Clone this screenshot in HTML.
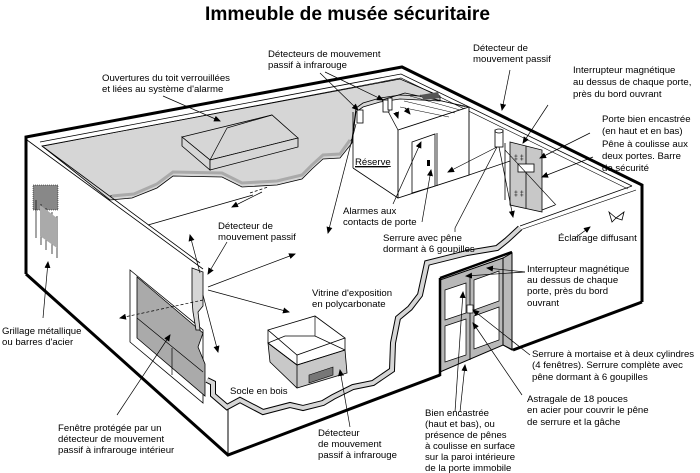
<!DOCTYPE html>
<html><head><meta charset="utf-8"><style>
html,body{margin:0;padding:0;background:#fff;}
svg{display:block;}
text{font-family:"Liberation Sans",sans-serif;font-size:9.6px;fill:#000;}
</style></head><body>
<svg width="700" height="473" viewBox="0 0 700 473" xmlns="http://www.w3.org/2000/svg">
<defs>
<marker id="a" markerWidth="7" markerHeight="7" refX="6" refY="3" orient="auto" markerUnits="userSpaceOnUse"><path d="M0,0 L7,3 L0,6 Z" fill="#000"/></marker>
</defs>
<rect width="700" height="473" fill="#fff"/>
<text x="205" y="20" font-weight="bold" style="font-size:19px" textLength="285" lengthAdjust="spacingAndGlyphs">Immeuble de musée sécuritaire</text>

<!-- gray roof -->
<polygon points="42,146 400,79 440,96 440,101 400,99 380,102 363,107 356,112 352,143 340,158 323,159 312,169 302,179 277,185 242,187 222,177 173,176 157,188 132,198 110,200" fill="#d6d6d6" stroke="#000" stroke-width="0.8"/>
<polyline points="110,200 132,198 157,188 173,176 222,177 242,187 277,185 302,179 312,169 323,159 340,158 352,143 356,112 363,107 380,102 400,99 440,101" fill="none" stroke="#000" stroke-width="0.8" transform="translate(0,-4)"/>
<polyline points="112,196 134,194 157,184 173,172 222,173 242,183 277,181 302,175 312,165 323,155 340,154 350,140" fill="none" stroke="#aaa" stroke-width="3"/>
<!-- roof box -->
<polygon points="182,137 272,115 298,138 210,160" fill="#d6d6d6" stroke="#000" stroke-width="0.8"/>
<polygon points="182,137 210,160 210,170 182,146" fill="#d6d6d6" stroke="#000" stroke-width="0.8"/>
<polygon points="210,160 298,138 298,147 210,170" fill="#d6d6d6" stroke="#000" stroke-width="0.8"/>
<line x1="210" y1="160" x2="227" y2="128" stroke="#000" stroke-width="0.7"/>
<line x1="227" y1="128" x2="272" y2="115" stroke="#000" stroke-width="0.7"/>

<!-- outer thick outline -->
<polyline points="26,274 26,137 402,67 642,185 642,302" fill="none" stroke="#000" stroke-width="3"/>
<polyline points="26,274 228,455 440,375" fill="none" stroke="#000" stroke-width="3"/>
<line x1="513" y1="350" x2="642" y2="302" stroke="#000" stroke-width="3"/>
<!-- inner rims -->
<polyline points="40,142 401,74 632,186" fill="none" stroke="#000" stroke-width="0.8"/>
<polyline points="44,146 401,78 628,189" fill="none" stroke="#000" stroke-width="0.6"/>
<line x1="27" y1="140" x2="203" y2="269" stroke="#000" stroke-width="0.8"/>
<line x1="42" y1="146" x2="200" y2="263" stroke="#000" stroke-width="0.8"/>
<line x1="228" y1="407" x2="228" y2="455" stroke="#000" stroke-width="1"/>
<!-- right wall interior -->
<line x1="520" y1="226" x2="632" y2="186" stroke="#000" stroke-width="0.8"/>
<line x1="520" y1="230" x2="636" y2="190" stroke="#000" stroke-width="0.6"/>
<!-- floor lines -->
<line x1="148" y1="225" x2="253" y2="195" stroke="#000" stroke-width="0.8"/>
<line x1="250" y1="193" x2="268" y2="187" stroke="#000" stroke-width="0.8" stroke-dasharray="3,2"/>
<line x1="262" y1="192" x2="232" y2="207" stroke="#000" stroke-width="0.7" marker-end="url(#a)"/>
<line x1="353" y1="168" x2="398" y2="198" stroke="#000" stroke-width="0.8"/>
<line x1="353" y1="112" x2="353" y2="168" stroke="#000" stroke-width="0.8"/>
<line x1="469" y1="175" x2="513" y2="160" stroke="#000" stroke-width="0.8"/>
<line x1="542" y1="210" x2="555" y2="205" stroke="#000" stroke-width="0.8"/>

<!-- storeroom -->
<polygon points="398,130 469,107 469,175 398,198" fill="#fff" stroke="#000" stroke-width="0.9"/>
<polyline points="398,130 382,100 405,93 469,107" fill="none" stroke="#000" stroke-width="0.7"/>
<line x1="410" y1="96" x2="460" y2="110" stroke="#000" stroke-width="0.5"/>
<line x1="404" y1="101" x2="455" y2="113" stroke="#000" stroke-width="0.5"/>
<line x1="400" y1="107" x2="449" y2="117" stroke="#000" stroke-width="0.5"/>
<line x1="420" y1="95" x2="465" y2="107" stroke="#000" stroke-width="0.5"/>
<polygon points="412,142 435,134 435,186 412,193" fill="#fff" stroke="#000" stroke-width="0.8"/>
<line x1="437" y1="133" x2="437" y2="186" stroke="#000" stroke-width="0.8"/>
<rect x="427" y="160" width="3" height="6" fill="#000"/>
<text x="355" y="165" style="text-decoration:underline">Réserve</text>
<line x1="355" y1="167" x2="388" y2="167" stroke="#000" stroke-width="0.7"/>
<!-- detectors on roof edge -->
<rect x="357" y="110" width="6" height="13" fill="#fff" stroke="#000" stroke-width="0.8"/>
<rect x="383" y="100" width="6" height="12" fill="#fff" stroke="#000" stroke-width="0.8"/>
<rect x="388" y="98" width="4" height="12" fill="#fff" stroke="#000" stroke-width="0.8"/>
<polygon points="420,95 438,92 440,98 424,100" fill="#555"/>

<!-- back wall doors panel -->
<polygon points="510,142 542,150 542,212 510,205" fill="#c8c8c8" stroke="#000" stroke-width="0.8"/>
<line x1="526" y1="146" x2="526" y2="208" stroke="#000" stroke-width="0.8"/>
<rect x="518" y="164" width="16" height="8" fill="#fff" stroke="#000" stroke-width="0.8"/>
<text x="514" y="160" style="font-size:7px">‡ ‡</text>
<text x="514" y="196" style="font-size:7px">‡ ‡</text>
<line x1="505" y1="143" x2="505" y2="200" stroke="#000" stroke-width="0.8"/>
<rect x="495" y="130" width="8" height="17" fill="#fff" stroke="#000" stroke-width="0.8"/>
<ellipse cx="499" cy="131" rx="4" ry="2" fill="#fff" stroke="#000" stroke-width="0.7"/>
<line x1="497" y1="147" x2="448" y2="172" stroke="#000" stroke-width="0.7" marker-end="url(#a)"/>
<line x1="497" y1="147" x2="455" y2="228" stroke="#000" stroke-width="0.7"/>
<line x1="499" y1="147" x2="513" y2="217" stroke="#000" stroke-width="0.7" marker-end="url(#a)"/>
<line x1="505" y1="150" x2="556" y2="205" stroke="#000" stroke-width="0.6"/>

<!-- left wall grating -->
<rect x="33" y="185" width="25" height="25" fill="#888"/>
<rect x="33" y="185" width="25" height="25" fill="none" stroke="#000" stroke-width="0.5" stroke-dasharray="1,1"/>
<path d="M36,200 L36,238 M41,204 L41,245 M46,208 L46,250 M52,212 L52,254 M57,216 L57,258" stroke="#000" stroke-width="0.7"/>
<polygon points="40,205 57,218 57,248 40,236" fill="#aaa"/>

<!-- left wall window -->
<polygon points="130,270 203,330 203,403 130,342" fill="#fff" stroke="#000" stroke-width="0.8"/>
<polygon points="137,277 203,333 198,347 205,364 205,396 137,338" fill="#aaa" stroke="#000" stroke-width="0.8"/>
<line x1="137" y1="318" x2="203" y2="372" stroke="#000" stroke-width="0.7"/>
<line x1="172" y1="348" x2="172" y2="375" stroke="#000" stroke-width="0.7"/>
<!-- post / cut on left -->
<polygon points="192,268 203,272 203,306 198,312 200,330 196,330 193,312 192,300" fill="#d6d6d6" stroke="#000" stroke-width="0.8"/>
<polyline points="207,380 213,383 213,395 227,407 240,400 263,412 290,405 303,408 323,403 333,397 353,387 373,383 392,370 393,343 398,318 410,308 420,295 427,263 447,258 467,253 497,248 507,240 520,228" fill="none" stroke="#000" stroke-width="6"/>
<polyline points="207,380 213,383 213,395 227,407 240,400 263,412 290,405 303,408 323,403 333,397 353,387 373,383 392,370 393,343 398,318 410,308 420,295 427,263 447,258 467,253 497,248 507,240 520,228" fill="none" stroke="#d6d6d6" stroke-width="4"/>

<!-- door -->
<polygon points="440,280 503,258 512,253 512,350 503,345 440,372" fill="#b8b8b8" stroke="#000" stroke-width="1"/>
<line x1="440" y1="278" x2="512" y2="252" stroke="#000" stroke-width="2.5"/>
<line x1="440" y1="278" x2="440" y2="376" stroke="#000" stroke-width="2.5"/>
<polyline points="503,258 503,345 513,350" fill="none" stroke="#000" stroke-width="1"/>
<polygon points="445,290 466,283 466,313 445,320" fill="#fff" stroke="#000" stroke-width="0.7"/>
<polygon points="445,326 466,319 466,355 445,362" fill="#fff" stroke="#000" stroke-width="0.7"/>
<polygon points="474,280 499,271 499,301 474,310" fill="#fff" stroke="#000" stroke-width="0.7"/>
<polygon points="474,316 499,307 499,340 474,349" fill="#fff" stroke="#000" stroke-width="0.7"/>
<line x1="470" y1="275" x2="470" y2="360" stroke="#000" stroke-width="0.8"/>
<rect x="467" y="305" width="6" height="8" fill="#fff" stroke="#000" stroke-width="0.7"/>

<!-- display case -->
<polygon points="270,362 297,388 347,373 345,350 297,365 268,343" fill="#c8c8c8" stroke="#000" stroke-width="0.8"/>
<polygon points="268,330 315,316 345,338 297,355" fill="none" stroke="#000" stroke-width="0.8"/>
<line x1="268" y1="330" x2="268" y2="343" stroke="#000" stroke-width="0.8"/>
<line x1="297" y1="355" x2="297" y2="388" stroke="#000" stroke-width="0.8"/>
<line x1="345" y1="338" x2="345" y2="350" stroke="#000" stroke-width="0.8"/>
<line x1="315" y1="316" x2="315" y2="336" stroke="#000" stroke-width="0.7"/>
<polyline points="268,343 297,365 345,350" fill="none" stroke="#000" stroke-width="0.8"/>
<polyline points="268,343 285,336 315,336 345,350" fill="none" stroke="#000" stroke-width="0.7"/>
<polygon points="309,375 333,367 333,375 309,383" fill="#777" stroke="#000" stroke-width="0.6"/>

<!-- lamp -->
<path d="M609,212 L616,218 L612,222 Z M616,218 L624,212 L622,220 Z" fill="#fff" stroke="#000" stroke-width="0.8"/>

<!-- leader lines / arrows -->
<g stroke="#000" stroke-width="0.7" fill="none">
<line x1="163" y1="96" x2="220" y2="121" marker-end="url(#a)"/>
<line x1="320" y1="73" x2="358" y2="110" marker-end="url(#a)"/>
<line x1="325" y1="72" x2="383" y2="100" marker-end="url(#a)"/>
<line x1="396" y1="112" x2="398" y2="118" marker-end="url(#a)"/>
<line x1="405" y1="108" x2="410" y2="114" marker-end="url(#a)"/>
<line x1="356" y1="124" x2="328" y2="233" marker-end="url(#a)"/>
<line x1="510" y1="70" x2="502" y2="110" marker-end="url(#a)"/>
<line x1="548" y1="105" x2="523" y2="143" marker-end="url(#a)"/>
<line x1="590" y1="133" x2="540" y2="158" marker-end="url(#a)"/>
<line x1="593" y1="157" x2="542" y2="177" marker-end="url(#a)"/>
<line x1="575" y1="238" x2="590" y2="227" marker-end="url(#a)"/>
<line x1="422" y1="222" x2="431" y2="170" marker-end="url(#a)"/>
<line x1="393" y1="204" x2="421" y2="142" marker-end="url(#a)"/>
<line x1="455" y1="232" x2="455" y2="228"/>
<line x1="208" y1="287" x2="295" y2="254" marker-end="url(#a)"/>
<line x1="208" y1="290" x2="289" y2="312" marker-end="url(#a)"/>
<line x1="203" y1="295" x2="218" y2="352" marker-end="url(#a)"/>
<line x1="200" y1="273" x2="190" y2="235" marker-end="url(#a)"/>
<line x1="203" y1="300" x2="120" y2="318" stroke-dasharray="3,2" marker-end="url(#a)"/>
<line x1="227" y1="242" x2="208" y2="274" marker-end="url(#a)"/>
<line x1="43" y1="318" x2="48" y2="262" marker-end="url(#a)"/>
<line x1="117" y1="415" x2="170" y2="335" marker-end="url(#a)"/>
<line x1="350" y1="427" x2="340" y2="370" marker-end="url(#a)"/>
<line x1="455" y1="412" x2="463" y2="292" marker-end="url(#a)"/>
<line x1="460" y1="412" x2="465" y2="365" marker-end="url(#a)"/>
<line x1="522" y1="395" x2="473" y2="323" marker-end="url(#a)"/>
<line x1="530" y1="355" x2="473" y2="310" marker-end="url(#a)"/>
<line x1="525" y1="272" x2="466" y2="276" marker-end="url(#a)"/>
<line x1="525" y1="272" x2="487" y2="268" marker-end="url(#a)"/>
</g>

<!-- labels -->
<text x="268" y="57">Détecteurs de mouvement</text>
<text x="268" y="68">passif à infrarouge</text>
<text x="473" y="51">Détecteur de</text>
<text x="473" y="62">mouvement passif</text>
<text x="102" y="81">Ouvertures du toit verrouillées</text>
<text x="102" y="92">et liées au système d'alarme</text>
<text x="573" y="73">Interrupteur magnétique</text>
<text x="573" y="85">au dessus de chaque porte,</text>
<text x="573" y="97">près du bord ouvrant</text>
<text x="602" y="122">Porte bien encastrée</text>
<text x="602" y="134">(en haut et en bas)</text>
<text x="602" y="147">Pêne à coulisse aux</text>
<text x="602" y="159">deux portes. Barre</text>
<text x="602" y="171">de sécurité</text>
<text x="558" y="241">Éclairage diffusant</text>
<text x="343" y="214">Alarmes aux</text>
<text x="343" y="225">contacts de porte</text>
<text x="383" y="241">Serrure avec pêne</text>
<text x="383" y="252">dormant à 6 goupilles</text>
<text x="218" y="229">Détecteur de</text>
<text x="218" y="240">mouvement passif</text>
<text x="312" y="296">Vitrine d'exposition</text>
<text x="312" y="307">en polycarbonate</text>
<text x="2" y="334">Grillage métallique</text>
<text x="2" y="345">ou barres d'acier</text>
<text x="230" y="394">Socle en bois</text>
<text x="58" y="431">Fenêtre protégée par un</text>
<text x="58" y="442">détecteur de mouvement</text>
<text x="58" y="453">passif à infrarouge intérieur</text>
<text x="318" y="436">Détecteur</text>
<text x="318" y="447">de mouvement</text>
<text x="318" y="458">passif à infrarouge</text>
<text x="527" y="272">Interrupteur magnétique</text>
<text x="527" y="283">au dessus de chaque</text>
<text x="527" y="294">porte, près du bord</text>
<text x="527" y="306">ouvrant</text>
<text x="532" y="357">Serrure à mortaise et à deux cylindres</text>
<text x="532" y="368">(4 fenêtres). Serrure complète avec</text>
<text x="532" y="380">pêne dormant à 6 goupilles</text>
<text x="527" y="402">Astragale de 18 pouces</text>
<text x="527" y="413">en acier pour couvrir le pêne</text>
<text x="527" y="425">de serrure et la gâche</text>
<text x="425" y="416">Bien encastrée</text>
<text x="425" y="427">(haut et bas), ou</text>
<text x="425" y="438">présence de pênes</text>
<text x="425" y="449">à coulisse en surface</text>
<text x="425" y="460">sur la paroi intérieure</text>
<text x="425" y="471">de la porte immobile</text>
</svg>
</body></html>
